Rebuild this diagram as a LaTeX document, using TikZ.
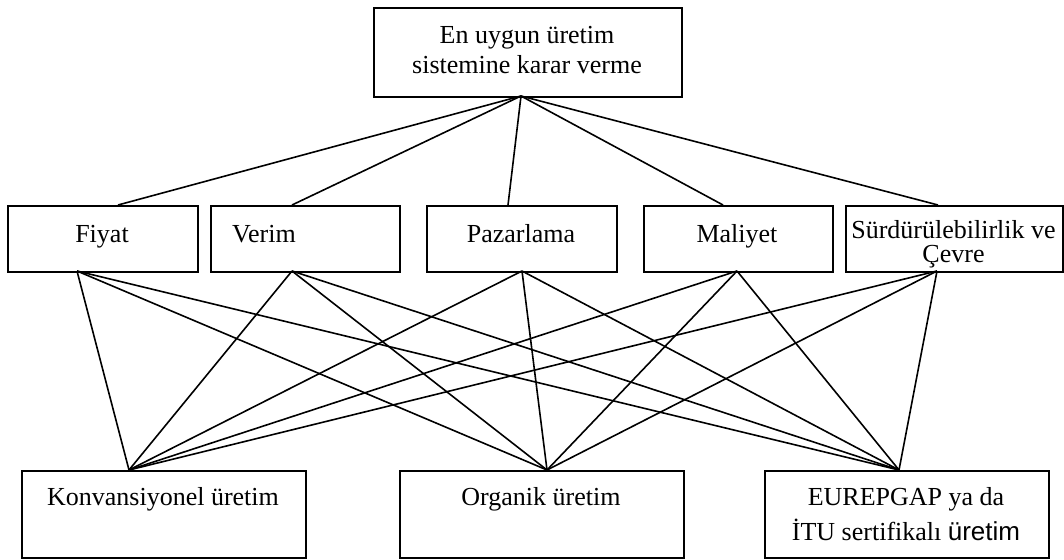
\documentclass[tikz,border=0pt]{standalone}
\usepackage{fontspec}
\setmainfont{Liberation Serif}
\newfontfamily\sansword{Liberation Sans}
\begin{document}
\begin{tikzpicture}[x=1pt,y=-1pt,
  box/.style={draw=black,line width=1.8pt,inner sep=0pt,anchor=north west},
  lbl/.style={inner sep=0pt,anchor=base,font=\fontsize{26}{30}\selectfont},
  link/.style={draw=black,line width=1.6pt}]
\useasboundingbox (0,0) rectangle (1064,559);
% boxes
\node[box,minimum width=308pt,minimum height=89pt] (top) at (373,7) {};
\node[box,minimum width=190pt,minimum height=66pt] (fiyat) at (7,205) {};
\node[box,minimum width=189pt,minimum height=66pt] (verim) at (210,205) {};
\node[box,minimum width=190pt,minimum height=66pt] (paz) at (426,205) {};
\node[box,minimum width=189pt,minimum height=66pt] (mal) at (643,205) {};
\node[box,minimum width=217pt,minimum height=66pt] (sur) at (845,205) {};
\node[box,minimum width=284pt,minimum height=87pt] (konv) at (21,470) {};
\node[box,minimum width=284pt,minimum height=87pt] (org) at (399,470) {};
\node[box,minimum width=284pt,minimum height=87pt] (eur) at (764,470) {};
% texts
\node[lbl] (t1) at (527,44) {En uygun üretim};
\node[lbl] (t2) at (527,74) {sistemine karar verme};
\node[lbl] (tf) at (102,242) {Fiyat};
\node[lbl,anchor=base west] (tv) at (232,242) {Verim};
\node[lbl] (tp) at (521,242) {Pazarlama};
\node[lbl] (tm) at (737,242) {Maliyet};
\node[lbl] (ts1) at (953.5,238) {Sürdürülebilirlik ve};
\node[lbl] (ts2) at (953.5,262) {Çevre};
\node[lbl] (tk) at (163,505) {Konvansiyonel üretim};
\node[lbl] (to) at (541,505) {Organik üretim};
\node[lbl] (te1) at (906,505) {EUREPGAP ya da};
\node[lbl] (te2) at (906,540) {İTU sertifikalı {\sansword üretim}};
% attachment points
\coordinate (topB) at (521,96);
\coordinate (fT) at (118,205); \coordinate (fB) at (77,271);
\coordinate (vT) at (292,205); \coordinate (vB) at (292,271);
\coordinate (pT) at (508,205); \coordinate (pB) at (522,271);
\coordinate (mT) at (723,205); \coordinate (mB) at (737,271);
\coordinate (sT) at (938,205); \coordinate (sB) at (937,271);
\coordinate (kT) at (129,470);
\coordinate (oT) at (547,470);
\coordinate (eT) at (899,470);
% connectors
\foreach \c in {fT,vT,pT,mT,sT} \draw[link] (topB) -- (\c);
\foreach \a in {fB,vB,pB,mB,sB}
  \foreach \b in {kT,oT,eT} \draw[link] (\a) -- (\b);
\end{tikzpicture}
\end{document}
